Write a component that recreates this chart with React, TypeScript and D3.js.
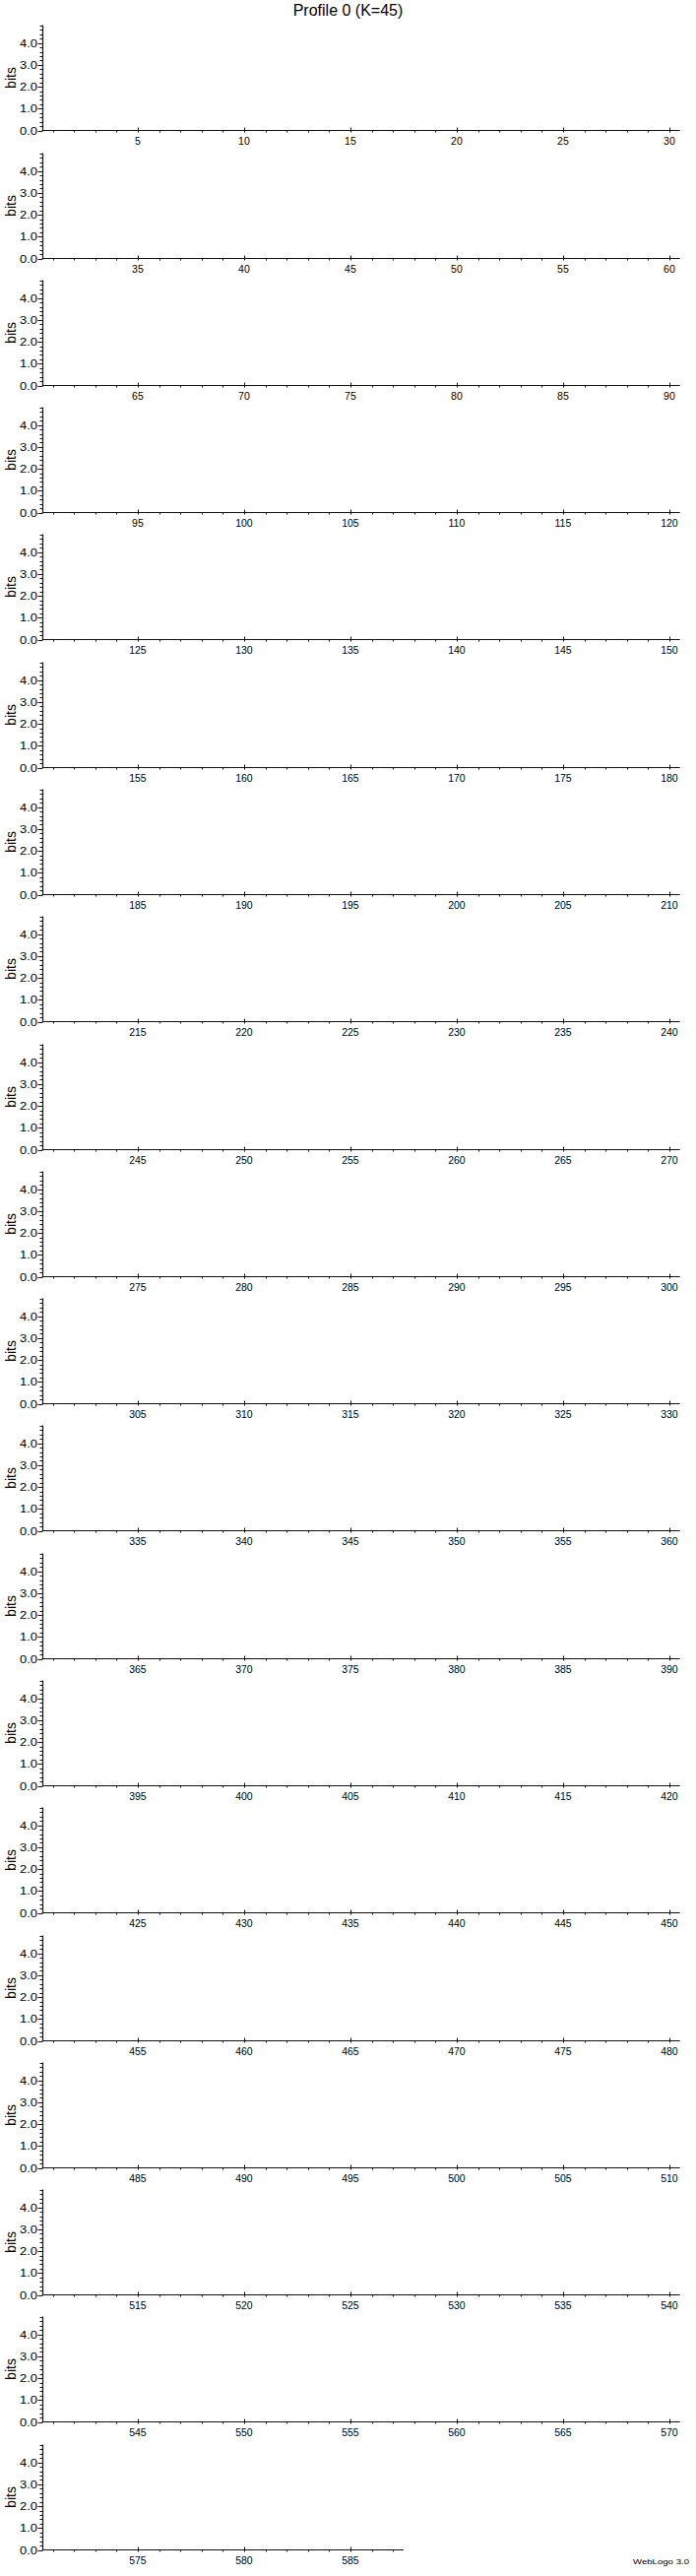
import React, { useEffect, useRef } from "react";
import * as d3 from "d3";

// sequence logo settings
const titleText = "Profile 0 (K=45)";
const yAxisLabel = "bits";
const footerText = "WebLogo 3.0";
const firstPosition = 1;
const lastPosition = 587;
const positionsPerLine = 30;
const xLabelEvery = 5;
const yMax = 4.82;
const yMajorTicks = [0, 1, 2, 3, 4];
const yTickLabels = ["0.0", "1.0", "2.0", "3.0", "4.0"];
const yMinorTicks = [0.2, 0.4, 0.6, 0.8, 1.2, 1.4, 1.6, 1.8, 2.2, 2.4, 2.6, 2.8, 3.2, 3.4, 3.6, 3.8, 4.2, 4.4, 4.6, 4.8];
// the profile has no information content, so no letter stacks are drawn
const symbolStacks: { position: number; symbols: { letter: string; bits: number; color: string }[] }[] = [];

const font = "'Liberation Sans', Arial, Helvetica, sans-serif";

const App = () => {
  const ref = useRef<SVGSVGElement | null>(null);
  const width = 707;
  const height = 2616;
  const left = 42.7;
  const right = 690.7;
  const firstBase = 132.3;
  const lineGap = 129.28;
  const plotHeight = 107;

  useEffect(() => {
    const svg = d3.select(ref.current).attr("width", width).attr("height", height);
    svg.selectAll("*").remove();

    const lineCount = Math.ceil((lastPosition - firstPosition + 1) / positionsPerLine);
    const rowY = d3
      .scaleLinear()
      .domain([0, lineCount - 1])
      .range([firstBase, firstBase + (lineCount - 1) * lineGap]);

    svg
      .append("text")
      .attr("x", 353.5)
      .attr("y", 15.5)
      .attr("text-anchor", "middle")
      .attr("font-family", font)
      .attr("font-size", 16)
      .attr("fill", "#000")
      .text(titleText);

    for (let k = 0; k < lineCount; k++) {
      const start = firstPosition + k * positionsPerLine;
      const end = Math.min(start + positionsPerLine - 1, lastPosition);
      const base = Math.round(rowY(k)) + 0.5;

      const x = d3
        .scaleLinear()
        .domain([start - 0.5, start + positionsPerLine - 0.5])
        .range([left, right]);
      const y = d3.scaleLinear().domain([0, yMax]).range([base, base - plotHeight]);

      const g = svg.append("g");
      const axisX = Math.round(left) + 0.5;

      // letter stacks (none in this profile)
      symbolStacks
        .filter((s) => s.position >= start && s.position <= end)
        .forEach((s) => {
          let acc = 0;
          s.symbols.forEach((sym) => {
            g.append("text")
              .attr("x", x(s.position))
              .attr("y", y(acc))
              .attr("text-anchor", "middle")
              .attr("fill", sym.color)
              .text(sym.letter);
            acc += sym.bits;
          });
        });

      // y axis
      g.append("line")
        .attr("x1", axisX)
        .attr("x2", axisX)
        .attr("y1", y(yMax))
        .attr("y2", base)
        .attr("stroke", "#111")
        .attr("stroke-width", 1.2);

      yMinorTicks.forEach((t) => {
        const ty = Math.round(y(t)) + 0.5;
        g.append("line")
          .attr("x1", axisX - 3)
          .attr("x2", axisX)
          .attr("y1", ty)
          .attr("y2", ty)
          .attr("stroke", "#111")
          .attr("stroke-width", 1);
      });

      yMajorTicks.forEach((t, i) => {
        const ty = Math.round(y(t)) + 0.5;
        g.append("line")
          .attr("x1", axisX - 5)
          .attr("x2", axisX)
          .attr("y1", ty)
          .attr("y2", ty)
          .attr("stroke", "#111")
          .attr("stroke-width", 1);
        g.append("text")
          .attr("x", axisX - 5.5)
          .attr("y", ty + 3.5)
          .attr("text-anchor", "end")
          .attr("font-family", font)
          .attr("font-size", 10)
          .attr("textLength", 18)
          .attr("lengthAdjust", "spacingAndGlyphs")
          .attr("fill", "#000")
          .text(yTickLabels[i]);
      });

      g.append("text")
        .attr("transform", `translate(15.5,${y(yMax / 2)}) rotate(-90)`)
        .attr("text-anchor", "middle")
        .attr("font-family", font)
        .attr("font-size", 14)
        .attr("fill", "#000")
        .text(yAxisLabel);

      // x axis
      g.append("line")
        .attr("x1", left)
        .attr("x2", x(end + 0.5))
        .attr("y1", base)
        .attr("y2", base)
        .attr("stroke", "#111")
        .attr("stroke-width", 1.2);

      d3.range(start, end + 1).forEach((p) => {
        const tx = Math.round(x(p)) + 0.5;
        const major = p % xLabelEvery === 0;
        g.append("line")
          .attr("x1", tx)
          .attr("x2", tx)
          .attr("y1", major ? base - 3 : base)
          .attr("y2", base + 2)
          .attr("stroke", "#111")
          .attr("stroke-width", 1);
        if (major) {
          g.append("text")
            .attr("x", x(p))
            .attr("y", base + 14.5)
            .attr("text-anchor", "middle")
            .attr("font-family", font)
            .attr("font-size", 10.5)
            .attr("fill", "#000")
            .text(String(p));
        }
      });
    }

    svg
      .append("text")
      .attr("x", 700)
      .attr("y", 2604)
      .attr("text-anchor", "end")
      .attr("font-family", font)
      .attr("font-size", 7.5)
      .attr("textLength", 57)
      .attr("lengthAdjust", "spacingAndGlyphs")
      .attr("fill", "#000")
      .text(footerText);
  }, []);

  return (
    <div style={{ position: "absolute", left: 0, top: 0, background: "#fff" }}>
      <svg ref={ref} style={{ display: "block" }}></svg>
    </div>
  );
};

export default App;
